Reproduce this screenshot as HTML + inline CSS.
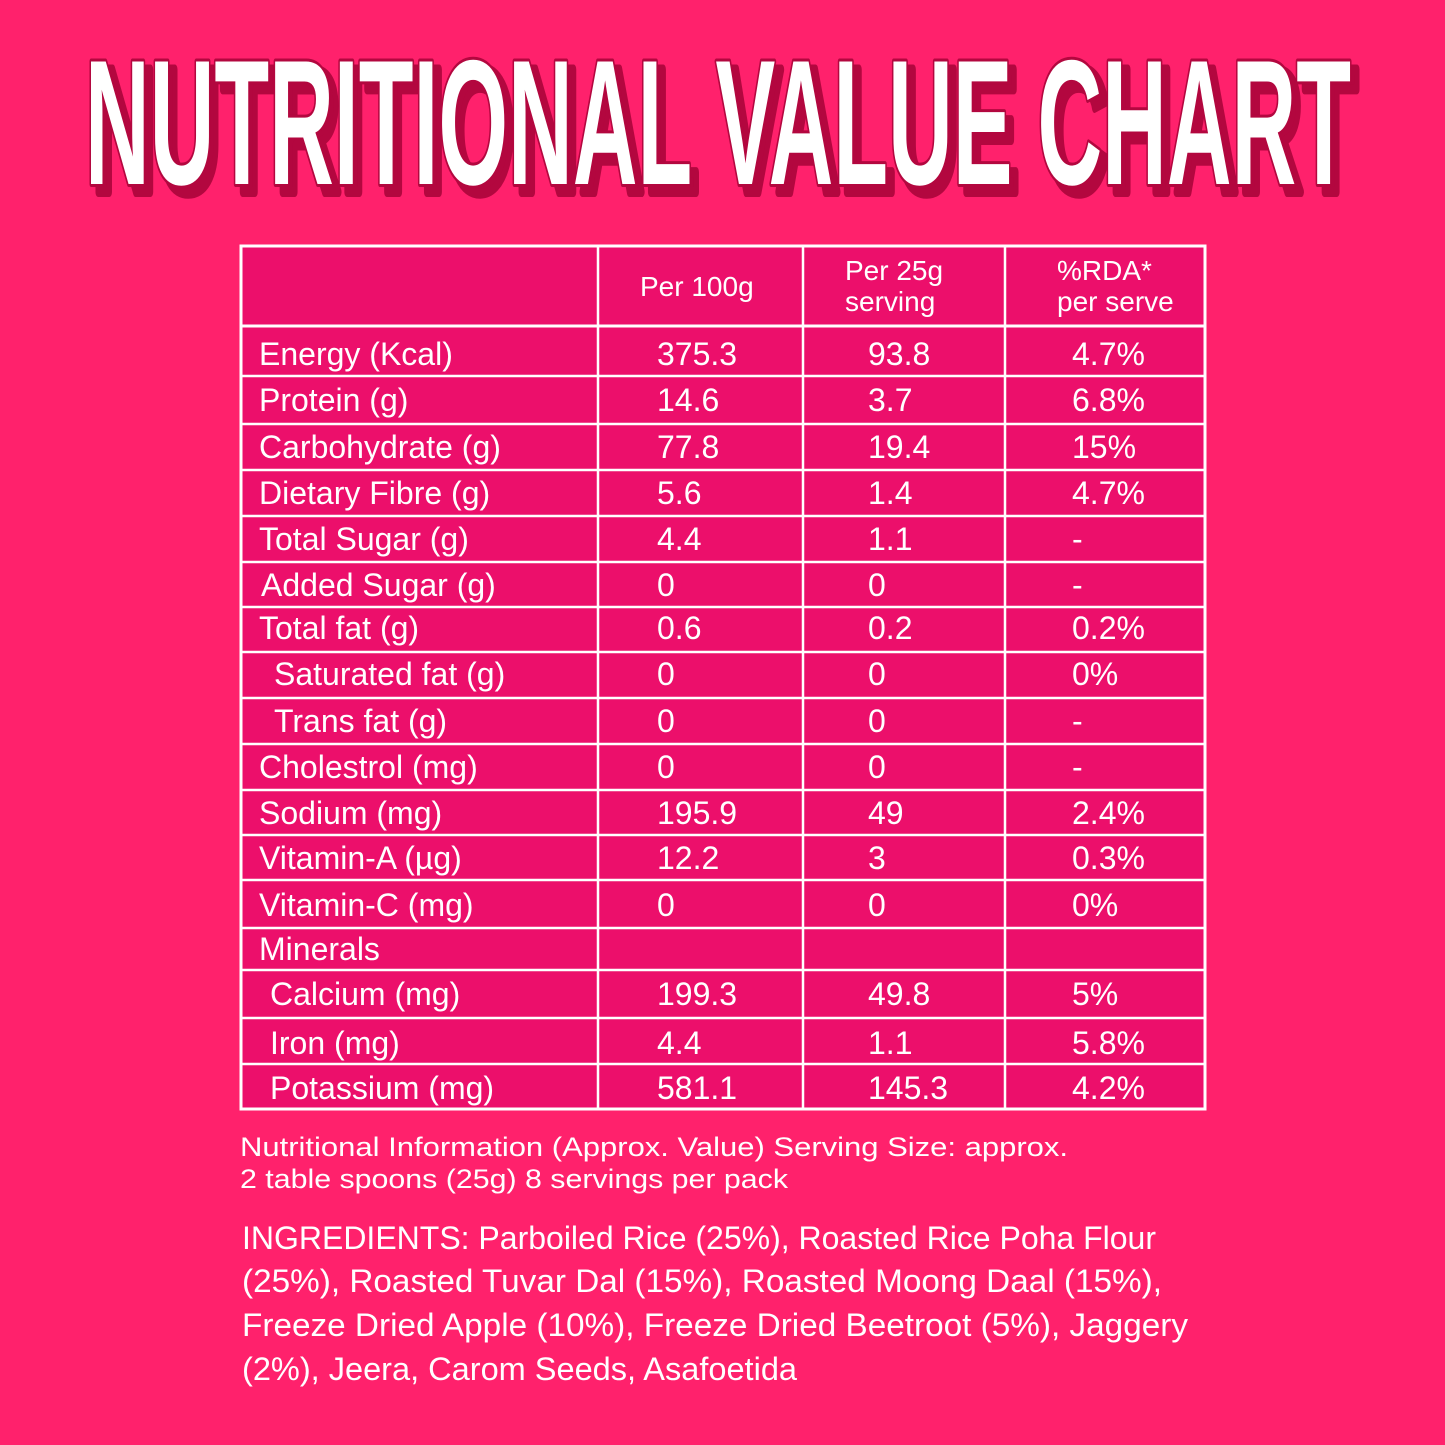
<!DOCTYPE html>
<html><head><style>
html,body{margin:0;padding:0;background:#FF216C;}
svg{display:block}
text{font-family:"Liberation Sans",sans-serif;fill:#fff}
</style></head><body>
<svg width="1445" height="1445" viewBox="0 0 1445 1445" xmlns="http://www.w3.org/2000/svg">
<rect width="1445" height="1445" fill="#FF216C"/>
<g font-weight="bold" font-size="178">
<text x="92" y="192" textLength="1266" lengthAdjust="spacingAndGlyphs" style="fill:#B3073F;stroke:#B3073F;stroke-width:10;stroke-linejoin:round">NUTRITIONAL VALUE CHART</text>
<text x="85" y="184" textLength="1266" lengthAdjust="spacingAndGlyphs" style="fill:#fff;stroke:#B3073F;stroke-width:6;stroke-linejoin:round;paint-order:stroke">NUTRITIONAL VALUE CHART</text>
</g>
<rect x="241" y="246" width="964" height="863" fill="#EC0F6B" stroke="#fff" stroke-width="3"/>
<g stroke="#fff" stroke-width="2.5">
<line x1="598" y1="246" x2="598" y2="1109"/>
<line x1="803" y1="246" x2="803" y2="1109"/>
<line x1="1005" y1="246" x2="1005" y2="1109"/>
<line x1="241" y1="326" x2="1205" y2="326" stroke-width="3"/>
<line x1="241" y1="376" x2="1205" y2="376"/>
<line x1="241" y1="424" x2="1205" y2="424"/>
<line x1="241" y1="470" x2="1205" y2="470"/>
<line x1="241" y1="516" x2="1205" y2="516"/>
<line x1="241" y1="562" x2="1205" y2="562"/>
<line x1="241" y1="607" x2="1205" y2="607"/>
<line x1="241" y1="652" x2="1205" y2="652"/>
<line x1="241" y1="698" x2="1205" y2="698"/>
<line x1="241" y1="744" x2="1205" y2="744"/>
<line x1="241" y1="790" x2="1205" y2="790"/>
<line x1="241" y1="835" x2="1205" y2="835"/>
<line x1="241" y1="880" x2="1205" y2="880"/>
<line x1="241" y1="928" x2="1205" y2="928"/>
<line x1="241" y1="970" x2="1205" y2="970"/>
<line x1="241" y1="1018" x2="1205" y2="1018"/>
<line x1="241" y1="1064" x2="1205" y2="1064"/>
</g>
<g font-size="28">
<text x="640" y="296">Per 100g</text>
<text x="845" y="280">Per 25g</text>
<text x="845" y="311">serving</text>
<text x="1057" y="280">%RDA*</text>
<text x="1057" y="311">per serve</text>
</g>
<g font-size="32">
<text x="259" y="365">Energy (Kcal)</text><text x="657" y="365">375.3</text><text x="868" y="365">93.8</text><text x="1072" y="365">4.7%</text>
<text x="259" y="411">Protein (g)</text><text x="657" y="411">14.6</text><text x="868" y="411">3.7</text><text x="1072" y="411">6.8%</text>
<text x="259" y="458">Carbohydrate (g)</text><text x="657" y="458">77.8</text><text x="868" y="458">19.4</text><text x="1072" y="458">15%</text>
<text x="259" y="504">Dietary Fibre (g)</text><text x="657" y="504">5.6</text><text x="868" y="504">1.4</text><text x="1072" y="504">4.7%</text>
<text x="259" y="550">Total Sugar (g)</text><text x="657" y="550">4.4</text><text x="868" y="550">1.1</text><text x="1072" y="550">-</text>
<text x="261" y="596">Added Sugar (g)</text><text x="657" y="596">0</text><text x="868" y="596">0</text><text x="1072" y="596">-</text>
<text x="259" y="639">Total fat (g)</text><text x="657" y="639">0.6</text><text x="868" y="639">0.2</text><text x="1072" y="639">0.2%</text>
<text x="274" y="685">Saturated fat (g)</text><text x="657" y="685">0</text><text x="868" y="685">0</text><text x="1072" y="685">0%</text>
<text x="274" y="732">Trans fat (g)</text><text x="657" y="732">0</text><text x="868" y="732">0</text><text x="1072" y="732">-</text>
<text x="259" y="778">Cholestrol (mg)</text><text x="657" y="778">0</text><text x="868" y="778">0</text><text x="1072" y="778">-</text>
<text x="259" y="824">Sodium (mg)</text><text x="657" y="824">195.9</text><text x="868" y="824">49</text><text x="1072" y="824">2.4%</text>
<text x="259" y="869">Vitamin-A (µg)</text><text x="657" y="869">12.2</text><text x="868" y="869">3</text><text x="1072" y="869">0.3%</text>
<text x="259" y="916">Vitamin-C (mg)</text><text x="657" y="916">0</text><text x="868" y="916">0</text><text x="1072" y="916">0%</text>
<text x="259" y="960">Minerals</text>
<text x="270" y="1005">Calcium (mg)</text><text x="657" y="1005">199.3</text><text x="868" y="1005">49.8</text><text x="1072" y="1005">5%</text>
<text x="270" y="1054">Iron (mg)</text><text x="657" y="1054">4.4</text><text x="868" y="1054">1.1</text><text x="1072" y="1054">5.8%</text>
<text x="270" y="1099">Potassium (mg)</text><text x="657" y="1099">581.1</text><text x="868" y="1099">145.3</text><text x="1072" y="1099">4.2%</text>
</g>
<g font-size="27">
<text x="240" y="1156" textLength="828" lengthAdjust="spacingAndGlyphs">Nutritional Information (Approx. Value) Serving Size: approx.</text>
<text x="240" y="1188" textLength="548" lengthAdjust="spacingAndGlyphs">2 table spoons (25g) 8 servings per pack</text>
</g>
<g font-size="32">
<text x="242" y="1249" textLength="914" lengthAdjust="spacingAndGlyphs">INGREDIENTS: Parboiled Rice (25%), Roasted Rice Poha Flour</text>
<text x="242" y="1292" textLength="920" lengthAdjust="spacingAndGlyphs">(25%), Roasted Tuvar Dal (15%), Roasted Moong Daal (15%),</text>
<text x="242" y="1336" textLength="946" lengthAdjust="spacingAndGlyphs">Freeze Dried Apple (10%), Freeze Dried Beetroot (5%), Jaggery</text>
<text x="242" y="1380" textLength="555" lengthAdjust="spacingAndGlyphs">(2%), Jeera, Carom Seeds, Asafoetida</text>
</g>
</svg>
</body></html>
